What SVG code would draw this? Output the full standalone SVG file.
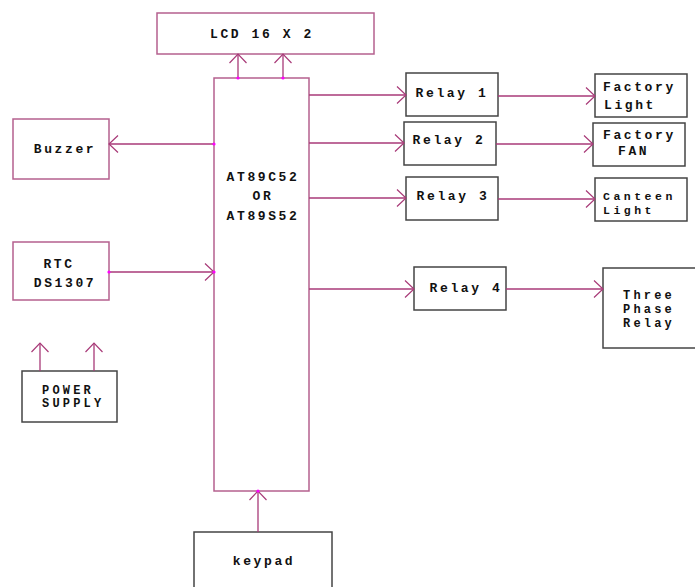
<svg xmlns="http://www.w3.org/2000/svg" width="695" height="587" viewBox="0 0 695 587">
<style>
.pk{fill:#fff;stroke:#B5608E;stroke-width:1.5}
.gr{fill:#fff;stroke:#444;stroke-width:1.5}
.t{font-family:"Liberation Mono","Courier New",monospace;font-weight:bold;font-size:13px;letter-spacing:2.6px;fill:#111}
.s{font-size:12px;letter-spacing:3.2px}
.xs{font-size:11.5px;letter-spacing:3.5px}
.c{text-anchor:middle}
.ln{stroke:#A83A78;stroke-width:1.3;fill:none}
.dot{fill:#FF00FF}
</style>
<defs>
<marker id="ah" markerUnits="userSpaceOnUse" markerWidth="24" markerHeight="24" viewBox="-12 -12 24 24" refX="0" refY="0" orient="auto">
<path d="M-9,-8.5 L0,0 L-9,8.5" fill="none" stroke="#A83A78" stroke-width="1.2"/>
</marker>
</defs>
<rect width="695" height="587" fill="#fff"/>
<g id="lcd"><rect class="pk" x="157" y="13" width="217" height="41"/><text class="t c" x="262" y="38">LCD 16 X 2</text></g>
<g id="mcu"><rect class="pk" x="214" y="78" width="95" height="413"/>
<text class="t c" x="263" y="181">AT89C52</text><text class="t c" x="263" y="200">OR</text><text class="t c" x="263" y="220">AT89S52</text></g>
<g id="buzzer"><rect class="pk" x="13" y="119" width="96" height="60"/><text class="t c" x="65" y="153">Buzzer</text></g>
<g id="rtc"><rect class="pk" x="13" y="242" width="96" height="58"/><text class="t c" x="59" y="268">RTC</text><text class="t c" x="65" y="287">DS1307</text></g>
<g id="power"><rect class="gr" x="22" y="371" width="95" height="51"/><text class="t s" x="42" y="394">POWER</text><text class="t s" x="42" y="407">SUPPLY</text></g>
<g id="keypad"><rect class="gr" x="194" y="532" width="138" height="60"/><text class="t c" x="264" y="565">keypad</text></g>
<g id="relay1"><rect class="gr" x="406" y="73" width="92" height="43"/><text class="t c" x="452" y="97">Relay 1</text></g>
<g id="relay2"><rect class="gr" x="404" y="122" width="92" height="43"/><text class="t c" x="449" y="144">Relay 2</text></g>
<g id="relay3"><rect class="gr" x="406" y="177" width="92" height="43"/><text class="t c" x="453" y="200">Relay 3</text></g>
<g id="relay4"><rect class="gr" x="414" y="267" width="92" height="43"/><text class="t c" x="466" y="292">Relay 4</text></g>
<g id="factorylight"><rect class="gr" x="595" y="74" width="92" height="43"/><text class="t" x="603" y="91">Factory</text><text class="t" x="604" y="109">Light</text></g>
<g id="factoryfan"><rect class="gr" x="593" y="123" width="92" height="43"/><text class="t" x="603" y="139">Factory</text><text class="t" x="618" y="155">FAN</text></g>
<g id="canteenlight"><rect class="gr" x="595" y="178" width="92" height="43"/><text class="t xs" x="603" y="200">Canteen</text><text class="t xs" x="603" y="214">Light</text></g>
<g id="threephase"><rect class="gr" x="603" y="268" width="95" height="80"/><text class="t s c" x="649" y="299">Three</text><text class="t s c" x="649" y="313">Phase</text><text class="t s c" x="649" y="327">Relay</text></g>
<g id="connectors">
<line class="ln" x1="238" y1="78" x2="238" y2="54" marker-end="url(#ah)"/>
<line class="ln" x1="283" y1="78" x2="283" y2="54" marker-end="url(#ah)"/>
<line class="ln" x1="214" y1="144" x2="109" y2="144" marker-end="url(#ah)"/>
<line class="ln" x1="109" y1="272" x2="214" y2="272" marker-end="url(#ah)"/>
<line class="ln" x1="258" y1="532" x2="258" y2="491" marker-end="url(#ah)"/>
<line class="ln" x1="40" y1="371" x2="40" y2="343" marker-end="url(#ah)"/>
<line class="ln" x1="94" y1="371" x2="94" y2="343" marker-end="url(#ah)"/>
<line class="ln" x1="309" y1="95" x2="406" y2="95" marker-end="url(#ah)"/>
<line class="ln" x1="309" y1="143" x2="404" y2="143" marker-end="url(#ah)"/>
<line class="ln" x1="309" y1="198" x2="406" y2="198" marker-end="url(#ah)"/>
<line class="ln" x1="309" y1="289" x2="414" y2="289" marker-end="url(#ah)"/>
<line class="ln" x1="498" y1="96" x2="595" y2="96" marker-end="url(#ah)"/>
<line class="ln" x1="496" y1="144" x2="593" y2="144" marker-end="url(#ah)"/>
<line class="ln" x1="498" y1="199" x2="595" y2="199" marker-end="url(#ah)"/>
<line class="ln" x1="506" y1="289" x2="603" y2="289" marker-end="url(#ah)"/>
<circle class="dot" cx="238" cy="78" r="1.6"/>
<circle class="dot" cx="283" cy="78" r="1.6"/>
<circle class="dot" cx="214" cy="144" r="1.6"/>
<circle class="dot" cx="109" cy="272" r="1.6"/>
<circle class="dot" cx="214" cy="272" r="1.6"/>
<circle class="dot" cx="258" cy="491" r="1.6"/>
</g>
</svg>
